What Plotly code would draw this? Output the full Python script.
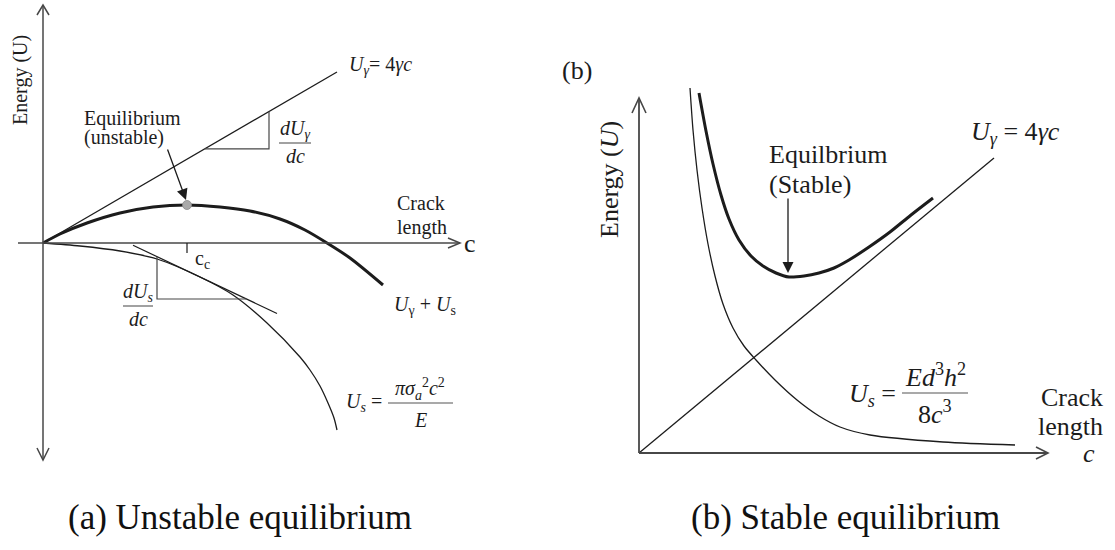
import plotly.graph_objects as go

# ---------------- Panel (a): unstable equilibrium ----------------
# total energy U_gamma + U_s
c_total_a = [0, 17, 44, 77, 110, 144, 177, 207, 237, 262, 284, 307, 340]
U_total_a = [0, 9, 20, 30, 36, 38, 36, 32, 24, 13, 0, -15, -42]
# surface energy U_gamma = 4*gamma*c (straight line)
c_surf_a = [0, 294]
U_surf_a = [0, 171]
# strain energy release U_s (negative)
c_strain_a = [0, 37, 77, 114, 157, 190, 224, 257, 267, 277, 285, 291, 294]
U_strain_a = [0, -3, -8, -16, -34, -52, -80, -114, -127, -143, -160, -175, -187]

# ---------------- Panel (b): stable equilibrium ----------------
c_total_b = [60, 67, 74, 82, 90, 100, 112, 124, 137, 150, 165, 180, 195, 210, 230, 251, 272, 294]
U_total_b = [360, 322, 289, 258, 234, 213, 197, 187, 180, 176, 177, 180, 185, 193, 206, 221, 238, 255]
c_surf_b = [0, 355]
U_surf_b = [0, 295]
c_strain_b = [51, 54, 58, 63, 69, 76, 84, 94, 105, 117, 136, 158, 180, 201, 231, 304, 376]
U_strain_b = [365, 323, 283, 245, 209, 177, 149, 125, 107, 93, 73, 53, 37, 26, 18, 11, 8]

FONT = "Liberation Serif, Times New Roman, serif"
INK = "#1c1c1c"
AXIS = "#474747"

fig = go.Figure()

def curve(x, y, ax, width, shape="spline"):
    xa, ya = ax
    fig.add_trace(go.Scatter(
        x=x, y=y, mode="lines", xaxis=xa, yaxis=ya,
        line=dict(color=INK, width=width, shape=shape, smoothing=0.8),
        hoverinfo="skip", showlegend=False))

A = ("x", "y")
B = ("x2", "y2")

curve(c_surf_a, U_surf_a, A, 1.3, "linear")
curve(c_strain_a, U_strain_a, A, 1.3)
curve(c_total_a, U_total_a, A, 3.0)

curve(c_surf_b, U_surf_b, B, 1.3, "linear")
curve(c_strain_b, U_strain_b, B, 1.3)
curve(c_total_b, U_total_b, B, 3.0)

# tangent to U_s at one of its samples, from the neighbouring samples
i_t = 4
slope_t = (U_strain_a[i_t + 1] - U_strain_a[i_t - 1]) / (c_strain_a[i_t + 1] - c_strain_a[i_t - 1])
c0, u0 = c_strain_a[i_t], U_strain_a[i_t]
tan_c = [90, 234]
tan_u = [u0 + slope_t * (c - c0) for c in tan_c]
curve(tan_c, tan_u, A, 1.2, "linear")

# slope triangle on U_s tangent
c_v = c_strain_a[i_t - 1]
u_top = u0 + slope_t * (c_v - c0)
u_h = -56
c_h = c0 + (u_h - u0) / slope_t
fig.add_trace(go.Scatter(x=[c_v, c_v, c_h], y=[u_top, u_h, u_h], mode="lines",
                         xaxis="x", yaxis="y", line=dict(color=AXIS, width=1.2),
                         hoverinfo="skip", showlegend=False))

# slope triangle on U_gamma line
slope_g = U_surf_a[1] / c_surf_a[1]
g0, g1 = 162, 226
fig.add_trace(go.Scatter(x=[g0, g1, g1], y=[slope_g * g0, slope_g * g0, slope_g * g1],
                         mode="lines", xaxis="x", yaxis="y",
                         line=dict(color=AXIS, width=1.2),
                         hoverinfo="skip", showlegend=False))

# equilibrium point (maximum of the total energy)
i_max = U_total_a.index(max(U_total_a))
c_eq_a, U_eq_a = c_total_a[i_max], U_total_a[i_max]
fig.add_trace(go.Scatter(x=[c_eq_a], y=[U_eq_a], mode="markers", xaxis="x", yaxis="y",
                         marker=dict(size=9, color="#a9a9a9", line=dict(color="#8a8a8a", width=0.8)),
                         hoverinfo="skip", showlegend=False))

i_min = U_total_b.index(min(U_total_b))
c_eq_b, U_eq_b = c_total_b[i_min], U_total_b[i_min]

shapes = []

def seg(x0, y0, x1, y1, xr, yr, color=AXIS, w=1.5):
    shapes.append(dict(type="line", x0=x0, y0=y0, x1=x1, y1=y1, xref=xr, yref=yr,
                       line=dict(color=color, width=w)))

def chevron(path, xr, yr, w=1.5):
    shapes.append(dict(type="path", path=path, xref=xr, yref=yr,
                       line=dict(color=AXIS, width=w)))

# axes of panel (a): energy axis with two arrows, crack-length axis
seg(0, -217, 0, 238, "x", "y")
seg(-25, 0, 417, 0, "x", "y")
chevron("M -6,228 L 0,238 L 6,228", "x", "y")
chevron("M -6,-205 L 0,-217 L 6,-205", "x", "y")
chevron("M 405,5 L 417,0 L 405,-5", "x", "y")
# c_c tick
seg(c_eq_a, 0, c_eq_a, -10, "x", "y", INK, 1.2)

# axes of panel (b)
seg(0, 0, 0, 355, "x2", "y2", AXIS, 1.8)
seg(0, 0, 409, 0, "x2", "y2", AXIS, 1.8)
chevron("M -7,340 L 0,355 L 7,340", "x2", "y2", 1.6)
chevron("M 397,6 L 409,0 L 397,-6", "x2", "y2", 1.6)

# fraction bars
seg(236, 100, 268, 100, "x", "y", "#555555", 1.1)
seg(80, -63, 110, -63, "x", "y", "#555555", 1.1)
seg(345, -160, 410, -160, "x", "y", "#555555", 1.1)
seg(263, 60, 329, 60, "x2", "y2", "#555555", 1.1)

annotations = []

def txt(x, y, s, size, xr, yr, xanchor="center", angle=0):
    annotations.append(dict(x=x, y=y, text=s, xref=xr, yref=yr, showarrow=False,
                            xanchor=xanchor, yanchor="middle", textangle=angle,
                            font=dict(family=FONT, size=size, color=INK)))

# panel (a) labels
txt(-23, 163, "Energy (U)", 20, "x", "y", angle=-90)
txt(304, 178, "<i>U<sub>γ</sub></i>= 4<i>γc</i>", 20, "x", "y", "left")
txt(252, 114, "<i>dU<sub>γ</sub></i>", 20, "x", "y")
txt(252, 87, "<i>dc</i>", 20, "x", "y")
txt(39, 125, "Equilibrium", 20, "x", "y", "left")
txt(39, 106, "(unstable)", 20, "x", "y", "left")
txt(352, 40, "Crack", 20, "x", "y", "left")
txt(352, 16, "length", 20, "x", "y", "left")
txt(427, 0, "c", 26, "x", "y")
txt(150, -16, "c<sub>c</sub>", 20, "x", "y", "left")
txt(349, -62, "<i>U</i><sub>γ</sub> + <i>U</i><sub>s</sub>", 20, "x", "y", "left")
txt(95, -49, "<i>dU<sub>s</sub></i>", 20, "x", "y")
txt(95, -76, "<i>dc</i>", 20, "x", "y")
txt(341, -159, "<i>U<sub>s</sub></i> =", 20, "x", "y", "right")
txt(377, -146, "<i>πσ<sub>a</sub></i><sup>2</sup><i>c</i><sup>2</sup>", 20, "x", "y")
txt(377, -177, "<i>E</i>", 20, "x", "y")

# panel (b) labels
txt(-62, 383, "(b)", 26, "x2", "y2")
txt(-30, 273, "Energy (<i>U</i>)", 26, "x2", "y2", angle=-90)
txt(128, 299, "Equilbrium", 26, "x2", "y2", "left")
txt(128, 269, "(Stable)", 26, "x2", "y2", "left")
txt(330, 320, "<i>U<sub>γ</sub></i> = 4<i>γc</i>", 26, "x2", "y2", "left")
txt(259, 58, "<i>U<sub>s</sub></i> =", 26, "x2", "y2", "right")
txt(296, 78, "<i>Ed</i><sup>3</sup><i>h</i><sup>2</sup>", 26, "x2", "y2")
txt(296, 41, "8<i>c</i><sup>3</sup>", 26, "x2", "y2")
txt(466, 56, "Crack", 26, "x2", "y2", "right")
txt(466, 27, "length", 26, "x2", "y2", "right")
txt(450, 0, "<i>c</i>", 26, "x2", "y2")

# pointers to the equilibrium states
annotations.append(dict(x=c_eq_a - 1, y=U_eq_a + 5, ax=124, ay=95, xref="x", yref="y",
                        axref="x", ayref="y", text="", showarrow=True, arrowhead=2,
                        arrowsize=1.7, arrowwidth=1.3, arrowcolor=INK))
annotations.append(dict(x=c_eq_b - 1, y=U_eq_b + 4, ax=c_eq_b - 1, ay=U_eq_b + 80,
                        xref="x2", yref="y2", axref="x2", ayref="y2", text="",
                        showarrow=True, arrowhead=2, arrowsize=1.7, arrowwidth=1.3,
                        arrowcolor=INK))

# captions
for cx, label in [(240, "(a) Unstable equilibrium"), (845, "(b) Stable equilibrium")]:
    annotations.append(dict(x=cx / 1115, y=1 - 517 / 550, xref="paper", yref="paper",
                            xanchor="center", yanchor="middle",
                            text=label, showarrow=False,
                            font=dict(family=FONT, size=35, color="#111111")))

hidden = dict(visible=False, showgrid=False, zeroline=False, fixedrange=True)
fig.update_layout(
    width=1115, height=550,
    margin=dict(l=0, r=0, t=0, b=0),
    paper_bgcolor="white", plot_bgcolor="white",
    xaxis=dict(domain=[0, 0.5], range=[-43, 514.5], **hidden),
    yaxis=dict(domain=[0, 1], range=[-307, 243], **hidden),
    xaxis2=dict(domain=[0.5, 1], range=[-81.5, 476], **hidden),
    yaxis2=dict(domain=[0, 1], range=[-97, 453], anchor="x2", **hidden),
    shapes=shapes,
    annotations=annotations,
    showlegend=False,
)

fig.write_html("out.html")
